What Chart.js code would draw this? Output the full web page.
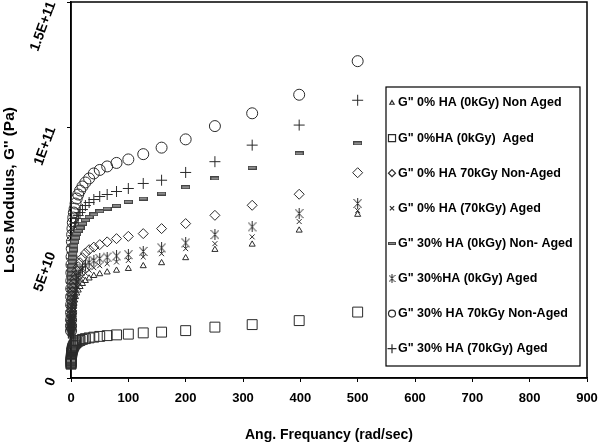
<!DOCTYPE html>
<html lang="en">
<head>
<meta charset="UTF-8">
<title>Loss Modulus vs Ang. Frequency</title>
<script src="https://cdn.jsdelivr.net/npm/chart.js"></script>
<style>
  html, body { margin: 0; padding: 0; background: #fff; }
</style>
</head>
<body>
<canvas id="myChart" width="600" height="447"></canvas>
<script>
  // angular frequency sweep (rad/s), values below in units of 1E+10 Pa
  const UNIT = 1e10;
  const freqs = [0.1, 0.126, 0.158, 0.2, 0.251, 0.316, 0.398, 0.501, 0.631, 0.794,
                 1, 1.26, 1.58, 2, 2.51, 3.16, 3.98, 5.01, 6.31, 7.94,
                 10, 12.6, 15.8, 20, 25.1, 31.6, 39.8, 50.1, 63.1, 79.4,
                 100, 126, 158, 200, 251, 316, 398, 500];

  const ha0NonAged = [1.66, 1.7, 1.74, 1.78, 1.83, 1.88, 1.94, 2.0, 2.07, 2.14,
                      2.22, 2.31, 2.4, 2.5, 2.6, 2.72, 2.84, 2.96, 3.1, 3.24,
                      3.38, 3.5, 3.64, 3.76, 3.88, 3.98, 4.08, 4.15, 4.22, 4.29,
                      4.36, 4.47, 4.59, 4.79, 5.12, 5.33, 5.89, 6.52];
  const ha0Aged = [0.55, 0.58, 0.61, 0.64, 0.67, 0.7, 0.74, 0.78, 0.82, 0.87,
                   0.92, 1.0, 1.05, 1.1, 1.15, 1.2, 1.25, 1.3, 1.35, 1.39,
                   1.43, 1.47, 1.5, 1.54, 1.57, 1.6, 1.63, 1.66, 1.69, 1.72,
                   1.75, 1.8, 1.83, 1.89, 2.03, 2.13, 2.29, 2.63];
  const ha0k70NonAged = [1.9, 1.95, 2.0, 2.06, 2.14, 2.24, 2.34, 2.45, 2.56, 2.68,
                         2.8, 2.92, 3.05, 3.18, 3.32, 3.46, 3.62, 3.78, 3.94, 4.1,
                         4.28, 4.44, 4.6, 4.8, 4.98, 5.12, 5.22, 5.32, 5.43, 5.56,
                         5.65, 5.76, 5.96, 6.16, 6.49, 6.89, 7.33, 8.19];
  const ha0k70Aged = [1.83, 1.87, 1.91, 1.96, 2.01, 2.07, 2.13, 2.2, 2.27, 2.35,
                      2.43, 2.52, 2.62, 2.72, 2.83, 2.95, 3.08, 3.22, 3.36, 3.5,
                      3.64, 3.78, 3.92, 4.06, 4.18, 4.3, 4.4, 4.48, 4.56, 4.63,
                      4.69, 4.83, 4.96, 5.16, 5.36, 5.63, 6.24, 6.68];
  const ha30NonAged = [2.56, 2.72, 2.88, 3.04, 3.2, 3.36, 3.52, 3.68, 3.84, 4.0,
                       4.16, 4.32, 4.48, 4.64, 4.8, 4.96, 5.12, 5.28, 5.44, 5.6,
                       5.76, 5.88, 6.0, 6.16, 6.3, 6.43, 6.53, 6.65, 6.76, 6.87,
                       7.03, 7.16, 7.36, 7.61, 7.96, 8.39, 8.96, 9.36];
  const ha30Aged = [1.86, 1.9, 1.95, 2.0, 2.06, 2.13, 2.2, 2.28, 2.37, 2.47,
                    2.58, 2.7, 2.82, 2.95, 3.08, 3.22, 3.36, 3.5, 3.65, 3.8,
                    3.95, 4.1, 4.25, 4.38, 4.5, 4.6, 4.68, 4.76, 4.82, 4.87,
                    4.92, 5.05, 5.19, 5.39, 5.72, 6.03, 6.56, 6.96];
  const ha30k70NonAged = [1.88, 2.08, 2.32, 2.6, 2.92, 3.24, 3.56, 3.88, 4.2, 4.52,
                          4.84, 5.16, 5.44, 5.72, 5.96, 6.2, 6.4, 6.6, 6.76, 6.96,
                          7.16, 7.32, 7.48, 7.64, 7.8, 7.96, 8.16, 8.3, 8.44, 8.58,
                          8.72, 8.93, 9.19, 9.52, 10.05, 10.56, 11.3, 12.64];
  const ha30k70Aged = [2.12, 2.3, 2.48, 2.68, 2.88, 3.08, 3.32, 3.56, 3.8, 4.04,
                       4.28, 4.52, 4.76, 5.0, 5.24, 5.48, 5.68, 5.88, 6.04, 6.2,
                       6.36, 6.48, 6.6, 6.72, 6.88, 7.0, 7.12, 7.24, 7.32, 7.44,
                       7.56, 7.76, 7.89, 8.2, 8.63, 9.29, 10.09, 11.08];

  const seriesLabels = [
    'G" 0% HA (0kGy) Non Aged',
    'G" 0%HA (0kGy)  Aged',
    'G" 0% HA 70kGy Non-Aged',
    'G" 0% HA (70kGy) Aged',
    'G" 30% HA (0kGy) Non- Aged',
    'G" 30%HA (0kGy) Aged',
    'G" 30% HA 70kGy Non-Aged',
    'G" 30% HA (70kGy) Aged'
  ];
  const yTickValues = [0, 5e10, 1e11, 1.5e11];
  const yTickLabels = ['0', '5E+10', '1E+11', '1.5E+11'];

  const INK = '#2a2a2a';
  const FONT = "'Liberation Sans', Arial, sans-serif";

  // small custom markers: grey bar and the six-armed asterisk
  function makeBar(w, h) {
    const c = document.createElement('canvas');
    c.width = w; c.height = h;
    const g = c.getContext('2d');
    g.fillStyle = '#8c8c8c';
    g.fillRect(0, 0, w, h);
    g.strokeStyle = '#444';
    g.lineWidth = 1;
    g.strokeRect(0.5, 0.5, w - 1, h - 1);
    return c;
  }
  function makeStar(w, h) {
    const c = document.createElement('canvas');
    c.width = w; c.height = h;
    const g = c.getContext('2d');
    g.strokeStyle = INK;
    g.lineWidth = 1;
    g.beginPath();
    g.moveTo(w / 2, 0); g.lineTo(w / 2, h);
    g.moveTo(0.5, 1); g.lineTo(w - 0.5, h - 1);
    g.moveTo(w - 0.5, 1); g.lineTo(0.5, h - 1);
    g.stroke();
    return c;
  }
  const barPt = makeBar(9, 4);
  const starPt = makeStar(9, 11);
  const barLeg = makeBar(8, 3);
  const starLeg = makeStar(7, 9);

  function series(label, vals, style, radius) {
    return {
      label: label,
      data: vals.map((v, i) => ({ x: freqs[i], y: v * UNIT })),
      pointStyle: style,
      pointRadius: radius,
      borderColor: INK,
      backgroundColor: 'rgba(0,0,0,0)',
      borderWidth: 1,
      showLine: false,
      clip: false
    };
  }

  const datasets = [
    series(seriesLabels[0], ha0NonAged, 'triangle', 3.5),
    series(seriesLabels[1], ha0Aged, 'rect', 7),
    series(seriesLabels[2], ha0k70NonAged, 'rectRot', 5),
    series(seriesLabels[3], ha0k70Aged, 'crossRot', 3.5),
    series(seriesLabels[4], ha30NonAged, barPt, 5),
    series(seriesLabels[5], ha30Aged, starPt, 5),
    series(seriesLabels[6], ha30k70NonAged, 'circle', 5.5),
    series(seriesLabels[7], ha30k70Aged, 'cross', 5.5)
  ];
  const legendMarks = [
    { s: 'triangle', r: 2.5 }, { s: 'rect', r: 5 }, { s: 'rectRot', r: 3.5 },
    { s: 'crossRot', r: 3 }, { s: barLeg }, { s: starLeg },
    { s: 'circle', r: 3.5 }, { s: 'cross', r: 4.5 }
  ];

  const frame = {
    id: 'frame',
    beforeDatasetsDraw(chart) {
      const { ctx, chartArea: a } = chart;
      ctx.save();
      ctx.strokeStyle = '#000';
      ctx.lineWidth = 1.5;
      ctx.strokeRect(a.left, a.top, a.right - a.left, a.bottom - a.top);
      ctx.restore();
    }
  };

  const legendBox = {
    id: 'legendBox',
    afterDraw(chart) {
      const ctx = chart.ctx;
      const x0 = 386, y0 = 87, w = 194, h = 279;
      ctx.save();
      ctx.fillStyle = '#fff';
      ctx.fillRect(x0, y0, w, h);
      ctx.strokeStyle = '#000';
      ctx.lineWidth = 1.2;
      ctx.strokeRect(x0, y0, w, h);
      ctx.font = 'bold 12.5px ' + FONT;
      ctx.textBaseline = 'middle';
      ctx.textAlign = 'left';
      chart.data.datasets.forEach((ds, i) => {
        const y = y0 + 16 + i * 35.1;
        const mx = x0 + 6;
        const m = legendMarks[i];
        if (typeof m.s === 'string') {
          ctx.strokeStyle = INK;
          ctx.fillStyle = 'rgba(0,0,0,0)';
          Chart.helpers.drawPoint(ctx, { pointStyle: m.s, rotation: 0, borderWidth: 1, radius: m.r }, mx, y);
        } else {
          ctx.drawImage(m.s, mx - m.s.width / 2, y - m.s.height / 2);
        }
        ctx.fillStyle = '#000';
        ctx.fillText(ds.label, x0 + 12, y);
      });
      ctx.restore();
    }
  };

  const ctx = document.getElementById('myChart').getContext('2d');
  new Chart(ctx, {
    type: 'scatter',
    data: { datasets: datasets },
    options: {
      responsive: false,
      animation: false,
      layout: { autoPadding: false, padding: { top: 2, right: 13, left: 0, bottom: 0 } },
      plugins: {
        legend: { display: false },
        tooltip: { enabled: false }
      },
      scales: {
        x: {
          type: 'linear',
          min: 0,
          max: 900,
          ticks: {
            stepSize: 100,
            maxRotation: 0,
            padding: 9,
            color: '#000',
            font: { family: FONT, size: 13, weight: 'bold' }
          },
          grid: { drawOnChartArea: false, tickLength: 4, color: '#000' },
          border: { color: '#000', width: 1.5 },
          title: {
            display: true,
            text: 'Ang. Frequancy (rad/sec)',
            color: '#000',
            padding: { top: 0, bottom: 3 },
            font: { family: FONT, size: 14, weight: 'bold' }
          },
          afterFit(s) { s.height = 69; s.paddingLeft = 0; s.paddingRight = 0; }
        },
        y: {
          min: 0,
          max: 1.5e11,
          ticks: {
            stepSize: 5e10,
            minRotation: 70,
            maxRotation: 70,
            padding: 15,
            color: '#000',
            font: { family: FONT, size: 14, weight: 'bold' },
            callback: (v) => {
              const i = yTickValues.indexOf(v);
              return i >= 0 ? yTickLabels[i] : '';
            }
          },
          grid: { drawOnChartArea: false, tickLength: 4, color: '#000' },
          border: { color: '#000', width: 1.5 },
          title: {
            display: true,
            text: "Loss Modulus, G'' (Pa)",
            color: '#000',
            padding: { top: 0, bottom: 0 },
            font: { family: FONT, size: 15.5, weight: 'bold' }
          },
          afterFit(s) { s.width = 71; s.paddingTop = 0; s.paddingBottom = 0; }
        }
      }
    },
    plugins: [frame, legendBox]
  });
</script>
</body>
</html>
